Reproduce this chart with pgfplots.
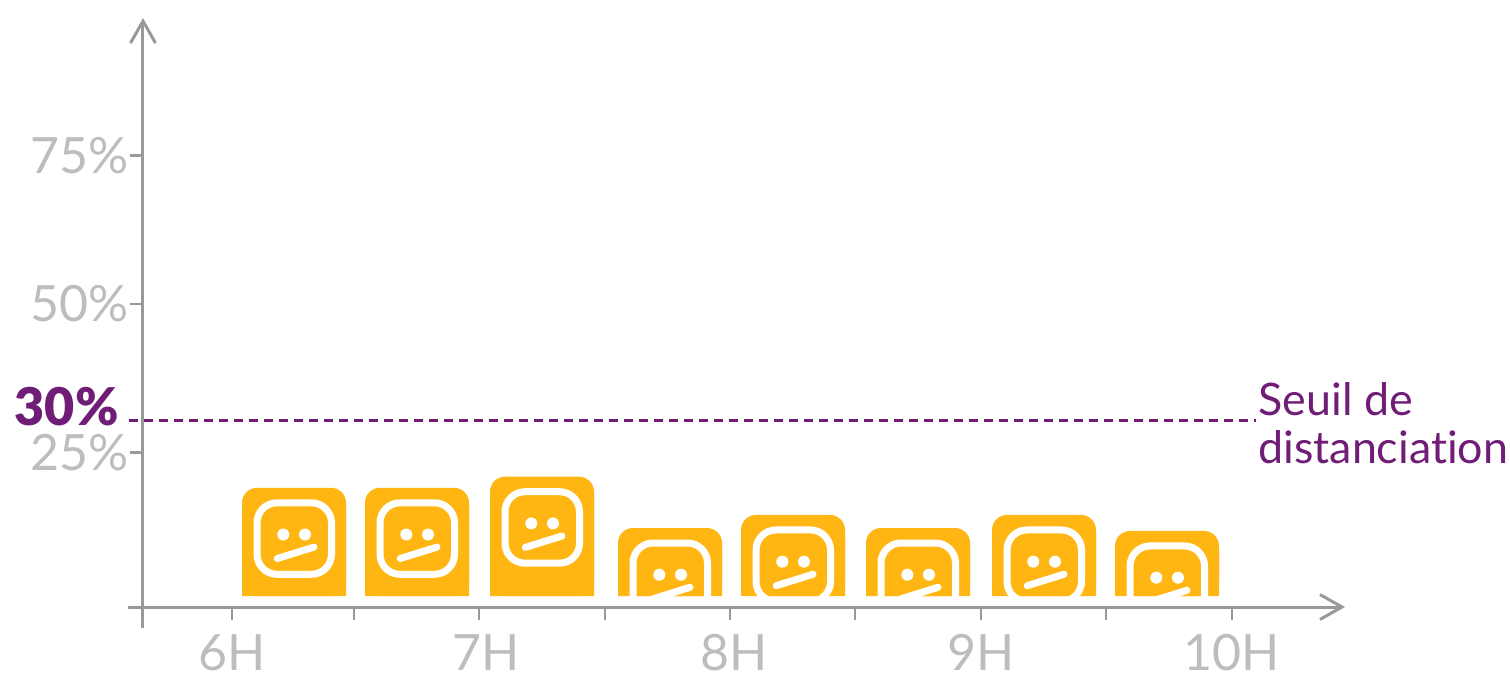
\documentclass[border=0pt]{standalone}
\usepackage{pgfplots}
\pgfplotsset{compat=1.18}
\usepackage{pgfplotstable}
\usepackage{fontspec}
\setmainfont{Lato}[Ligatures=NoCommon]
\newfontfamily\latoblack{Lato Black}
\usetikzlibrary{arrows.meta}
\definecolor{amber}{HTML}{FFB612}
\definecolor{axisgray}{HTML}{999999}
\definecolor{labelgray}{HTML}{BDBDBD}
\definecolor{seuil}{HTML}{6F1D77}
\pgfdeclareplotmark{face}{%
  \pgfsetcolor{white}%
  \begin{pgfscope}
    \pgfsetlinewidth{3.5pt}%
    \pgfpathmoveto{\pgfpoint{-8.5pt}{-7.5pt}}%
    \pgfpathlineto{\pgfpoint{8.75pt}{-7.5pt}}%
    \pgfpatharc{90}{0}{10pt}%
    \pgfpathlineto{\pgfpoint{18.75pt}{-33.25pt}}%
    \pgfpatharc{0}{-90}{10pt}%
    \pgfpathlineto{\pgfpoint{-8.5pt}{-43.25pt}}%
    \pgfpatharc{-90}{-180}{10pt}%
    \pgfpathlineto{\pgfpoint{-18.5pt}{-17.5pt}}%
    \pgfpatharc{180}{90}{10pt}%
    \pgfpathclose
    \pgfusepathqstroke
  \end{pgfscope}
  \pgfpathcircle{\pgfpoint{-5.35pt}{-23.35pt}}{3pt}%
  \pgfpathcircle{\pgfpoint{5.5pt}{-23.35pt}}{3pt}%
  \pgfusepathqfill
  \pgfsetlinewidth{3.5pt}%
  \pgfsetroundcap
  \pgfpathmoveto{\pgfpoint{-8.35pt}{-35.35pt}}%
  \pgfpathlineto{\pgfpoint{10pt}{-29.65pt}}%
  \pgfusepathqstroke
}
\pgfplotstableread{
hour  v
6.248 19.0
6.740 19.0
7.240 20.87
7.752 12.22
8.244 14.42
8.744 12.22
9.248 14.42
9.740 11.72
}\bars
\tikzset{barb/.style={-{Straight Barb[length=11pt,width=12.5pt]}}}
\begin{document}
\begin{tikzpicture}[x=0.5pt,y=-0.5pt]
\useasboundingbox (0,0) rectangle (1510,674);
% bars and faces: clipped at their base by the axis box
\begin{axis}[
  at={(71.5pt,-298pt)}, anchor=south west,
  scale only axis, width=601pt, height=289pt,
  xmin=5.644, xmax=10.452, ymin=0.759, ymax=98.2,
  hide axis, clip marker paths=true,
  ybar, bar width=52pt,
]
\addplot[ybar, bar shift=0pt, fill=amber, draw=none, rounded corners=7.5pt] table[x=hour,y=v] {\bars};
\addplot[ybar, bar shift=0pt, fill=amber, draw=none] table[x=hour,y expr=\thisrow{v}-3] {\bars};
\addplot[only marks, mark=face] table[x=hour,y=v] {\bars};
\end{axis}
% axes
\begin{axis}[
  at={(71.5pt,-303.5pt)}, anchor=south west,
  scale only axis, width=601pt, height=294.5pt,
  xmin=5.644, xmax=10.452, ymin=-1.096, ymax=98.2,
  axis lines=left, clip=false,
  x axis line style={barb, draw=axisgray, line width=1.5pt, shorten <=-7.5pt},
  y axis line style={barb, draw=axisgray, line width=1.5pt, shorten <=-10.5pt},
  tick style={draw=axisgray, line width=1.3pt},
  major tick length=6.5pt, tick align=outside,
  ytick={25,50,75},
  yticklabels={25\%,50\%,75\%},
  xtick={6,6.488,6.988,7.492,7.992,8.492,8.996,9.496,10},
  xticklabels={6H,,\hspace*{7pt}7H,,\hspace*{4pt}8H,,9H,,10H},
  tick label style={text=labelgray, font=\fontsize{25}{25}\selectfont},
  yticklabel style={inner sep=0pt, xshift=-0.5pt},
  xticklabel style={inner sep=0pt, yshift=-7pt},
]
\addplot[seuil, line width=1.3pt, dash pattern=on 4.5pt off 3pt] coordinates {(5.588,30.3) (10.096,30.3)};
\end{axis}
\node[anchor=base east, inner sep=0pt, text=seuil, font=\fontsize{26}{26}\selectfont\latoblack] at (119,425) {30\%};
\node[anchor=base west, inner sep=0pt, text=seuil, font=\fontsize{22.4}{24}\selectfont] at (1258,415) {Seuil de};
\node[anchor=base west, inner sep=0pt, text=seuil, font=\fontsize{22.4}{24}\selectfont] at (1258,463) {distanciation};
\end{tikzpicture}
\end{document}
